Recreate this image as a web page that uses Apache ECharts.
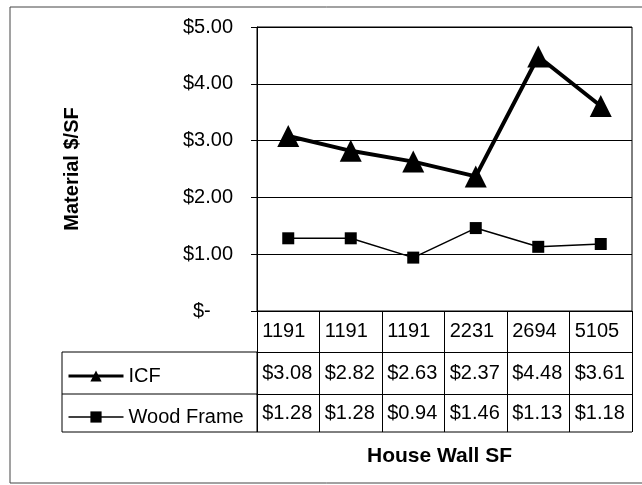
<!DOCTYPE html>
<html>
<head>
<meta charset="utf-8">
<script src="https://cdn.jsdelivr.net/npm/echarts@6/dist/echarts.min.js"></script>
<style>
  html, body { margin: 0; padding: 0; background: #fff; }
  #chart { width: 642px; height: 485px; }
</style>
</head>
<body>
<div id="chart"></div>
<script>
// data
const wallSF = ['1191', '1191', '1191', '2231', '2694', '5105'];
const icf = [3.08, 2.82, 2.63, 2.37, 4.48, 3.61];
const woodFrame = [1.28, 1.28, 0.94, 1.46, 1.13, 1.18];
const yTicks = [0, 1, 2, 3, 4, 5];

const money = v => '$' + v.toFixed(2);
const FONT = '"Liberation Sans", Arial, sans-serif';
const FS = 20;

// cell text: left aligned inside the column
const cell = v => '{c|' + v + '}';
const cellRich = { c: { width: 52, align: 'left', fontSize: FS, fontFamily: FONT, color: '#000' } };

const chart = echarts.init(document.getElementById('chart'));

chart.setOption({
  animation: false,
  textStyle: { fontFamily: FONT, color: '#000' },
  grid: {
    left: 257, right: 10, top: 27, bottom: 174,
    show: true, borderColor: '#000', borderWidth: 1
  },
  legend: {
    orient: 'vertical',
    left: 62, top: 361,
    itemWidth: 55, itemHeight: 14, itemGap: 21,
    textStyle: { fontSize: FS, fontFamily: FONT, color: '#000' },
    data: [
      { name: 'ICF', lineStyle: { width: 3, color: '#000' } },
      { name: 'Wood Frame', lineStyle: { width: 1.6, color: '#000' } }
    ]
  },
  yAxis: {
    type: 'value',
    min: yTicks[0], max: yTicks[yTicks.length - 1], interval: 1,
    name: 'Material $/SF',
    nameLocation: 'middle', nameRotate: 90, nameGap: 175,
    nameTextStyle: { fontSize: FS, fontWeight: 'bold', fontFamily: FONT, color: '#000' },
    axisLine: { show: true, lineStyle: { color: '#000', width: 1 } },
    axisTick: { show: true, length: 6, lineStyle: { color: '#000' } },
    splitLine: { show: true, lineStyle: { color: '#000', width: 1 } },
    axisLabel: {
      margin: 24, fontSize: FS, color: '#000', fontFamily: FONT,
      formatter: v => v === 0 ? '$-    ' : money(v)
    }
  },
  xAxis: [
    {
      type: 'category', data: wallSF, boundaryGap: true,
      axisLine: { show: true, lineStyle: { color: '#000', width: 1 } },
      axisTick: { show: true, interval: 0, length: 121, lineStyle: { color: '#000', width: 1 } },
      axisLabel: { interval: 0, margin: 10, formatter: cell, rich: cellRich }
    },
    {
      type: 'category', data: icf.map(money), boundaryGap: true,
      position: 'bottom', offset: 41,
      axisLine: { show: true, lineStyle: { color: '#000', width: 1 } },
      axisTick: { show: false },
      axisLabel: { interval: 0, margin: 11, formatter: cell, rich: cellRich }
    },
    {
      type: 'category', data: woodFrame.map(money), boundaryGap: true,
      position: 'bottom', offset: 83,
      axisLine: { show: true, lineStyle: { color: '#000', width: 1 } },
      axisTick: { show: false },
      axisLabel: { interval: 0, margin: 9, formatter: cell, rich: cellRich },
      name: 'House Wall SF',
      nameLocation: 'middle', nameGap: 52,
      nameTextStyle: { fontSize: 21, fontWeight: 'bold', fontFamily: FONT, color: '#000', padding: [0, 10, 0, 0] }
    }
  ],
  graphic: [
    // outer chart border
    { type: 'rect', shape: { x: 10, y: 7, width: 640, height: 476 }, style: { fill: null, stroke: '#444', lineWidth: 1 }, silent: true },
    // legend column of the data table
    { type: 'rect', shape: { x: 62, y: 352, width: 195, height: 80 }, style: { fill: null, stroke: '#000', lineWidth: 1 }, silent: true },
    { type: 'line', shape: { x1: 62, y1: 394, x2: 257, y2: 394 }, style: { stroke: '#000', lineWidth: 1 }, silent: true },
    { type: 'line', shape: { x1: 257, y1: 432, x2: 632, y2: 432 }, style: { stroke: '#000', lineWidth: 1 }, silent: true }
  ],
  series: [
    {
      name: 'ICF', type: 'line', data: icf,
      symbol: 'triangle', symbolSize: 22,
      lineStyle: { color: '#000', width: 4 },
      itemStyle: { color: '#000' }
    },
    {
      name: 'Wood Frame', type: 'line', data: woodFrame,
      symbol: 'rect', symbolSize: 12,
      lineStyle: { color: '#000', width: 1.5 },
      itemStyle: { color: '#000' }
    }
  ]
});
</script>
</body>
</html>
